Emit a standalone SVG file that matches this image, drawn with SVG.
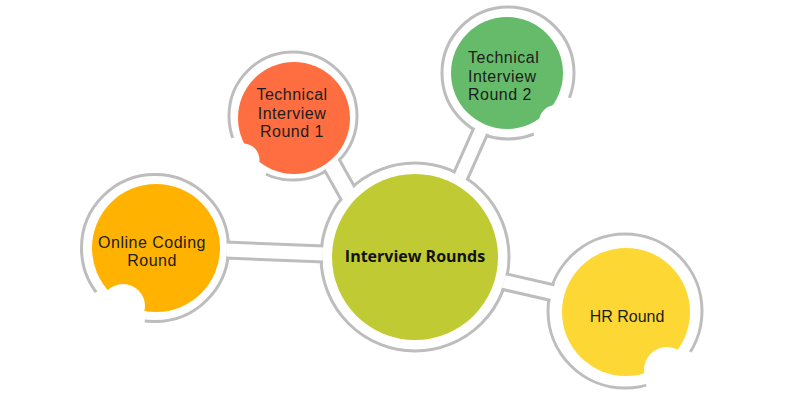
<svg xmlns="http://www.w3.org/2000/svg" width="800" height="400" viewBox="0 0 800 400">
<style>
.ring{fill:#fff;stroke:#bdbdbd;stroke-width:3}
.gap{fill:none;stroke:#fff;stroke-width:8}
.bite{fill:#fff}
.lbl{font-family:"Liberation Sans",Arial,sans-serif;font-size:16px;letter-spacing:0.5px;fill:#1c1c1c}
.title{font-family:"Open Sans","Liberation Sans",sans-serif;font-size:16px;font-weight:700;fill:#111}
.wall{stroke:#bdbdbd;fill:none;stroke-linecap:butt}
.tube{stroke:#fff;fill:none;stroke-linecap:butt}
</style>
<defs>
<mask id="outside" maskUnits="userSpaceOnUse" x="0" y="0" width="800" height="400">
<rect x="0" y="0" width="800" height="400" fill="#fff"/>
<circle cx="415" cy="257" r="92.4" fill="#000"/>
<circle cx="155" cy="248" r="71.9" fill="#000"/>
<circle cx="293" cy="116" r="62.4" fill="#000"/>
<circle cx="508" cy="73" r="64.4" fill="#000"/>
<circle cx="625" cy="311" r="75.4" fill="#000"/>
</mask>
</defs>
<rect width="800" height="400" fill="#fff"/>
<g id="node-center">
<circle class="ring" cx="415" cy="257" r="94"/>
<circle cx="415" cy="257" r="83" fill="#c0ca33"/>
<text class="title" x="415" y="262" text-anchor="middle">Interview Rounds</text>
</g>
<g id="node-online">
<circle class="ring" cx="155" cy="248" r="73.5"/>
<path class="gap" d="M144.8 320.8 A73.5 73.5 0 0 1 96.3 292.2"/>
<circle cx="156" cy="248" r="64" fill="#ffb300"/>
<circle class="bite" cx="123" cy="306" r="22"/>
<text class="lbl" text-anchor="middle"><tspan x="152" y="247.5">Online Coding</tspan><tspan x="152" y="266">Round</tspan></text>
</g>
<g id="node-tech1">
<circle class="ring" cx="293" cy="116" r="64"/>
<path class="gap" d="M266 174 A64 64 0 0 1 232.9 137.9"/>
<circle cx="294" cy="118" r="56" fill="#ff6e40"/>
<circle class="bite" cx="243" cy="160" r="16.5"/>
<text class="lbl" text-anchor="middle"><tspan x="292" y="100">Technical</tspan><tspan x="292" y="118.5">Interview</tspan><tspan x="292" y="137">Round 1</tspan></text>
</g>
<g id="node-tech2">
<circle class="ring" cx="508" cy="73" r="66"/>
<path class="gap" d="M569.2 97.7 A66 66 0 0 1 533.8 133.8"/>
<circle cx="507" cy="73" r="56" fill="#66bb6a"/>
<circle class="bite" cx="556" cy="122" r="17"/>
<text class="lbl"><tspan x="468" y="63">Technical</tspan><tspan x="468" y="81.5">Interview</tspan><tspan x="468" y="100">Round 2</tspan></text>
</g>
<g id="node-hr">
<circle class="ring" cx="625" cy="311" r="77"/>
<path class="gap" d="M690.3 351.8 A77 77 0 0 1 646.2 385"/>
<circle cx="626" cy="312" r="64" fill="#fdd835"/>
<circle class="bite" cx="667" cy="370" r="23"/>
<text class="lbl" x="627" y="322" text-anchor="middle" style="letter-spacing:0">HR Round</text>
</g>
<g id="connectors" mask="url(#outside)">
<line class="wall" x1="200" y1="249" x2="350" y2="255" stroke-width="19"/>
<line class="tube" x1="200" y1="249" x2="350" y2="255" stroke-width="13"/>
<line class="wall" x1="318" y1="140" x2="360" y2="215" stroke-width="21"/>
<line class="tube" x1="318" y1="140" x2="360" y2="215" stroke-width="15"/>
<line class="wall" x1="490" y1="110" x2="450" y2="200" stroke-width="18"/>
<line class="tube" x1="490" y1="110" x2="450" y2="200" stroke-width="12"/>
<line class="wall" x1="480" y1="276" x2="580" y2="299" stroke-width="19"/>
<line class="tube" x1="480" y1="276" x2="580" y2="299" stroke-width="13"/>
</g>
</svg>
